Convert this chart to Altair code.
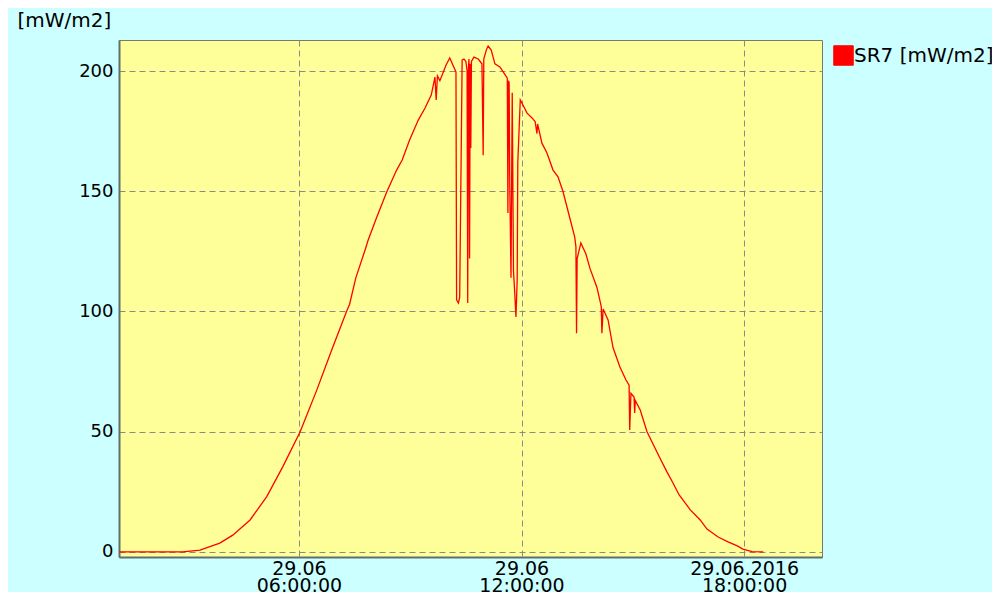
import altair as alt
import pandas as pd

# ---- data (29.06.2016) ----
times = ["01:10", "02:52", "03:20", "03:52", "04:13", "04:41", "05:08", "05:34",
         "06:02", "06:29", "06:53", "07:17", "07:22", "07:32", "07:47", "07:52",
         "08:06", "08:22", "08:38", "08:47", "08:59", "09:13", "09:24", "09:34",
         "09:40", "09:42", "09:44", "09:48", "09:58", "10:04", "10:09", "10:14",
         "10:15", "10:18", "10:20", "10:24", "10:27", "10:30", "10:32", "10:33",
         "10:34", "10:35", "10:36", "10:37", "10:38", "10:39", "10:43", "10:50",
         "10:56", "10:58", "10:59", "11:03", "11:06", "11:11", "11:17", "11:25",
         "11:32", "11:37", "11:38", "11:39", "11:40", "11:41", "11:43", "11:45",
         "11:47", "11:49", "11:51", "11:53", "11:54", "11:58", "12:00", "12:09",
         "12:17", "12:22", "12:25", "12:26", "12:33", "12:41", "12:51", "12:59",
         "13:07", "13:15", "13:26", "13:28", "13:29", "13:30", "13:36", "13:44",
         "13:51", "14:02", "14:09", "14:10", "14:12", "14:20", "14:28", "14:39",
         "14:49", "14:54", "14:55", "14:57", "15:02", "15:03", "15:04", "15:12",
         "15:23", "15:44", "15:55", "16:05", "16:15", "16:33", "16:49", "17:00",
         "17:18", "17:34", "17:49", "17:58", "18:13", "18:31"]
values = [0, 0, 0.8, 3.7, 7, 13.3, 23, 35.5,
          50, 67.4, 84, 100, 103, 114, 125.6, 129.7,
          139.3, 149.7, 158.8, 163, 171.3, 179.6, 184.6, 190,
          197.5, 188, 198, 196, 202.5, 205.4, 202.5, 199.6,
          104.8, 103.5, 106, 204.6, 205, 204, 200, 103.5,
          200, 205, 122, 203, 168, 204, 205.8, 205,
          203, 165, 205, 208.7, 210.4, 208.7, 203, 201.7,
          199, 197, 141, 196, 195, 153, 114, 191,
          117, 108, 97.7, 113, 162, 188, 187, 182.5,
          180.5, 179, 174, 178, 170, 166, 158.8, 156,
          150, 142, 131, 127, 91, 122, 128.5, 124,
          117.7, 110, 102, 91, 101, 96.5, 85, 77,
          71.5, 69.4, 50.7, 66, 64.4, 57.8, 63, 59,
          50, 39, 33.4, 28.7, 23.7, 17.5, 13.3, 9.5,
          6.2, 4.2, 2.5, 1.2, 0.1, 0]

series_name = "SR7 [mW/m2]"
y_title = "[mW/m2]"
y_ticks = [0, 50, 100, 150, 200]
x_tick_hours = [6, 12, 18]
x_tick_dates = ["29.06", "29.06", "29.06.2016"]
x_tick_times = ["06:00:00", "12:00:00", "18:00:00"]

df = pd.DataFrame({
    "t": ["2016-06-29T" + t + ":00Z" for t in times],
    "v": values,
    "series": series_name,
})

label_expr = "".join(
    f"utchours(datum.value) == {h} ? ['{d}', '{tm}'] : "
    for h, d, tm in zip(x_tick_hours, x_tick_dates, x_tick_times)
) + "''"

FONT = "DejaVu Sans"

x_enc = alt.X(
    "t:T",
    scale=alt.Scale(
        type="utc",
        domain=[alt.DateTime(year=2016, month=6, date=29, hours=1, minutes=9, utc=True),
                alt.DateTime(year=2016, month=6, date=29, hours=20, minutes=6, utc=True)],
        nice=False,
    ),
    axis=alt.Axis(
        values=[alt.DateTime(year=2016, month=6, date=29, hours=h, utc=True) for h in x_tick_hours],
        labelExpr=label_expr,
        title=None,
        ticks=False,
        grid=True,
        gridColor="#8a8a8a",
        gridDash=[6, 4],
        gridWidth=1,
        domainColor="#5f6f70",
        domainWidth=2,
        labelFont=FONT,
        labelFontSize=19,
        labelColor="#000000",
        labelLineHeight=17,
        labelPadding=2,
        labelBaseline="top",
        labelAlign="center",
        labelOverlap=False,
        labelFlush=False,
    ),
)

y_enc = alt.Y(
    "v:Q",
    scale=alt.Scale(domain=[-2.1, 212.9], nice=False, zero=False),
    axis=alt.Axis(
        values=y_ticks,
        title=y_title,
        titleAngle=0,
        titleAlign="left",
        titleBaseline="middle",
        titleX=-102,
        titleY=-20,
        titleFont=FONT,
        titleFontSize=20,
        titleFontWeight="normal",
        titleColor="#000000",
        ticks=False,
        grid=True,
        gridColor="#8a8a8a",
        gridDash=[6, 4],
        gridWidth=1,
        domainColor="#5f6f70",
        domainWidth=2,
        labelFont=FONT,
        labelFontSize=18,
        labelColor="#000000",
        labelPadding=6,
        labelOverlap=False,
    ),
)

color_enc = alt.Color(
    "series:N",
    scale=alt.Scale(domain=[series_name], range=["#FF0000"]),
    legend=alt.Legend(
        title=None,
        orient="none",
        legendX=714,
        legendY=5,
        padding=0,
        symbolType="square",
        symbolSize=380,
        symbolFillColor="#FF0000",
        symbolStrokeColor="#444444",
        symbolStrokeWidth=1,
        labelFont=FONT,
        labelFontSize=20,
        labelColor="#000000",
        labelOffset=0,
    ),
)

chart = (
    alt.Chart(df)
    .mark_line(strokeWidth=1.3, interpolate="linear")
    .encode(x=x_enc, y=y_enc, color=color_enc)
    .properties(
        width=703,
        height=517,
        autosize=alt.AutoSizeParams(type="none"),
        padding={"left": 111, "top": 32, "right": 170, "bottom": 35},
    )
    .configure(background="#CCFFFF")
    .configure_view(fill="#FFFF99", stroke="#7a7a6a", strokeWidth=1)
)

chart.save("out.html", embed_options={"renderer": "svg", "actions": False})
